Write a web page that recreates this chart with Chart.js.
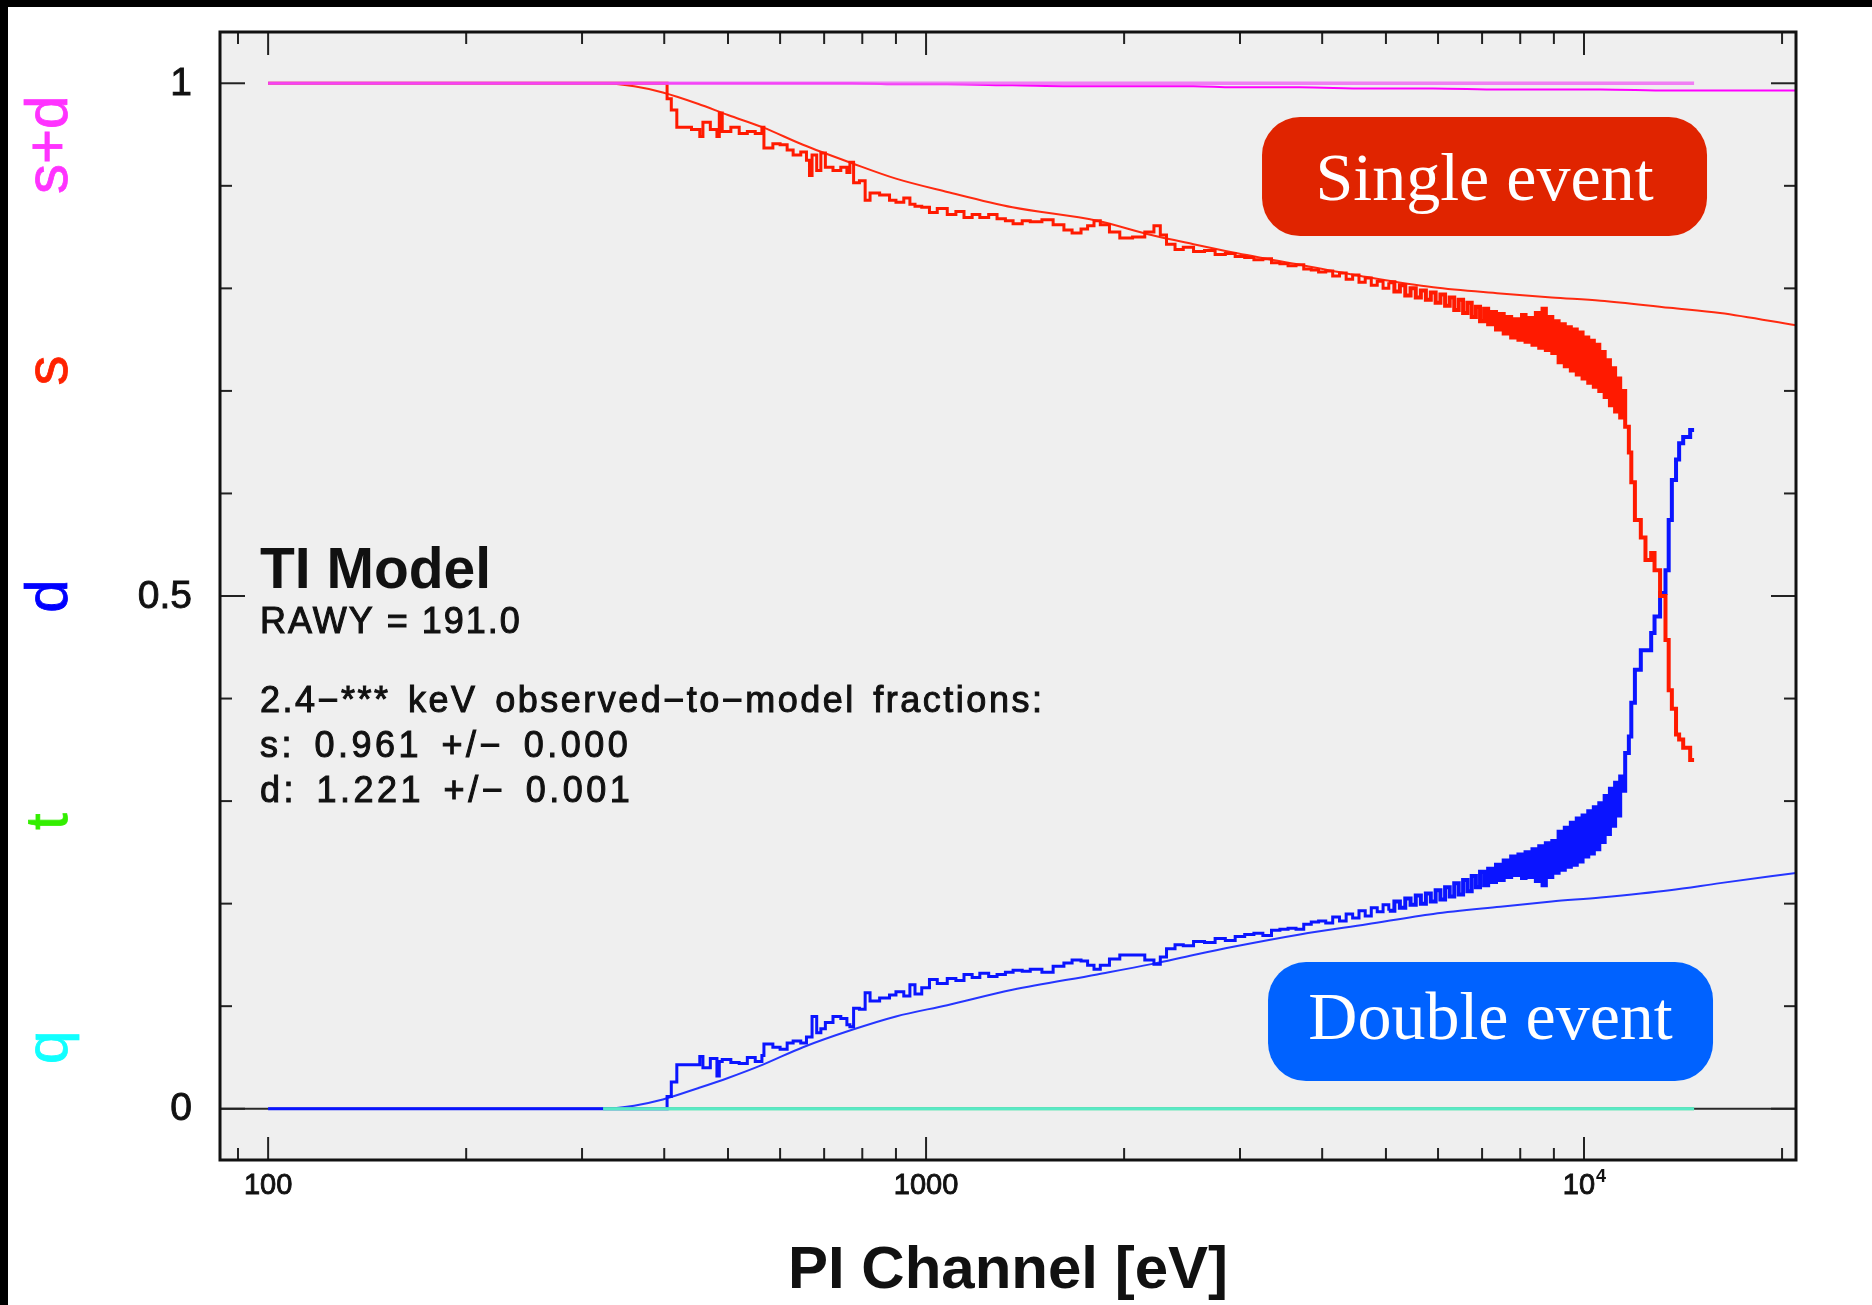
<!DOCTYPE html>
<html>
<head>
<meta charset="utf-8">
<title>Event grade fractions</title>
<script src="https://cdn.jsdelivr.net/npm/chart.js@4.4.1/dist/chart.umd.min.js"></script>
<style>
  html, body { margin: 0; padding: 0; background: #fff; overflow: hidden; }
  canvas { display: block; }
</style>
</head>
<body>
<canvas id="grades" width="1872" height="1305"></canvas>
<script>
// Measured branching ratios per PI channel (eV)
const dataEnergy = [
  100, 200, 300, 404, 410, 418, 440, 453, 458, 470,
  481, 485, 490, 505, 520, 535, 550, 563, 567, 585,
  600, 615, 628, 645, 658, 665, 671, 682, 692, 703,
  722, 742, 758, 766, 776, 792, 808, 822, 850, 880,
  900, 925, 945, 962, 985, 1012, 1040, 1077, 1110, 1142,
  1175, 1207, 1245, 1282, 1320, 1356, 1400, 1440, 1500, 1560,
  1620, 1667, 1720, 1760, 1800, 1840, 1900, 1970, 2060, 2150,
  2220, 2270, 2320, 2390, 2460, 2550, 2650, 2750, 2850, 2950,
  3050, 3150, 3250, 3350, 3450, 3550, 3650, 3750, 3850, 3950,
  4050, 4150, 4250, 4350, 4450, 4550, 4650, 4750, 4850, 4950,
  5050, 5150, 5250, 5350, 5450, 5550, 5650, 5750, 5850, 5950,
  6050, 6150, 6250, 6350, 6450, 6550, 6650, 6750, 6850, 6950,
  7050, 7150, 7250, 7350, 7450, 7550, 7650, 7750, 7850, 7950,
  8050, 8150, 8250, 8350, 8450, 8550, 8650, 8750, 8850, 8950,
  9050, 9150, 9250, 9350, 9450, 9550, 9650, 9750, 9850, 9950,
  10050, 10150, 10250, 10350, 10450, 10550, 10650, 10750, 10850, 10950,
  11050, 11150, 11250, 11350, 11450, 11550, 11700, 11800, 11950, 12200,
  12400, 12650, 12800, 13050, 13300, 13450, 13600, 13800, 13950, 14150,
  14500, 14700,
];
const singleFrac = [
  1.0, 1.0, 1.0, 0.985, 0.974, 0.957, 0.955, 0.948, 0.962, 0.955,
  0.948, 0.971, 0.953, 0.957, 0.951, 0.953, 0.951, 0.957, 0.937, 0.941,
  0.94, 0.935, 0.93, 0.933, 0.925, 0.91, 0.93, 0.915, 0.932, 0.918,
  0.915, 0.918, 0.913, 0.923, 0.903, 0.905, 0.886, 0.893, 0.891, 0.886,
  0.884, 0.888, 0.882, 0.88, 0.879, 0.874, 0.878, 0.872, 0.875, 0.869,
  0.872, 0.869, 0.872, 0.868, 0.866, 0.863, 0.866, 0.865, 0.867, 0.862,
  0.857, 0.854, 0.858, 0.861, 0.866, 0.862, 0.855, 0.849, 0.85, 0.855,
  0.861, 0.852, 0.843, 0.838, 0.84, 0.836, 0.837, 0.833, 0.834, 0.831,
  0.83, 0.828, 0.829, 0.825, 0.824, 0.822, 0.823, 0.819, 0.818, 0.816,
  0.817, 0.812, 0.815, 0.809, 0.813, 0.806, 0.81, 0.803, 0.807, 0.8,
  0.806, 0.797, 0.803, 0.793, 0.8, 0.791, 0.798, 0.789, 0.796, 0.786,
  0.794, 0.783, 0.791, 0.779, 0.789, 0.776, 0.786, 0.772, 0.782, 0.768,
  0.78, 0.765, 0.777, 0.76, 0.775, 0.756, 0.772, 0.752, 0.77, 0.75,
  0.774, 0.748, 0.771, 0.745, 0.776, 0.742, 0.78, 0.74, 0.772, 0.737,
  0.768, 0.728, 0.765, 0.724, 0.762, 0.72, 0.76, 0.716, 0.757, 0.712,
  0.752, 0.708, 0.749, 0.704, 0.745, 0.7, 0.738, 0.694, 0.73, 0.686,
  0.722, 0.68, 0.712, 0.674, 0.7, 0.665, 0.64, 0.611, 0.574, 0.557,
  0.535, 0.542, 0.525, 0.5, 0.457, 0.408, 0.39, 0.365, 0.36, 0.352,
  0.34, 0.34,
];
const doubleFrac = [
  0, 0, 0, 0.012, 0.026, 0.043, 0.043, 0.051, 0.04, 0.049,
  0.032, 0.046, 0.048, 0.045, 0.044, 0.05, 0.046, 0.052, 0.063, 0.06,
  0.058, 0.064, 0.066, 0.064, 0.07, 0.07, 0.09, 0.074, 0.078, 0.084,
  0.09, 0.088, 0.082, 0.08, 0.098, 0.097, 0.113, 0.105, 0.108, 0.111,
  0.114, 0.11, 0.121, 0.112, 0.118, 0.126, 0.122, 0.127, 0.125, 0.131,
  0.128, 0.132, 0.129, 0.131, 0.133, 0.135, 0.134, 0.136, 0.133, 0.139,
  0.142, 0.145, 0.144, 0.14, 0.136, 0.14, 0.146, 0.15, 0.15, 0.145,
  0.141, 0.148, 0.156, 0.16, 0.159, 0.163, 0.162, 0.166, 0.164, 0.168,
  0.17, 0.171, 0.169, 0.174, 0.175, 0.176, 0.175, 0.18, 0.182, 0.183,
  0.181, 0.187, 0.183, 0.19, 0.186, 0.193, 0.188, 0.196, 0.192, 0.199,
  0.193, 0.202, 0.196, 0.205, 0.199, 0.208, 0.2, 0.21, 0.202, 0.213,
  0.204, 0.216, 0.207, 0.22, 0.209, 0.223, 0.212, 0.227, 0.216, 0.231,
  0.218, 0.234, 0.221, 0.238, 0.223, 0.242, 0.226, 0.246, 0.228, 0.248,
  0.225, 0.25, 0.226, 0.253, 0.222, 0.256, 0.218, 0.259, 0.226, 0.261,
  0.23, 0.27, 0.233, 0.274, 0.236, 0.279, 0.238, 0.283, 0.241, 0.286,
  0.246, 0.29, 0.249, 0.294, 0.253, 0.298, 0.26, 0.305, 0.268, 0.312,
  0.276, 0.318, 0.286, 0.324, 0.31, 0.347, 0.363, 0.396, 0.428, 0.447,
  0.447, 0.464, 0.48, 0.503, 0.525, 0.574, 0.613, 0.633, 0.649, 0.655,
  0.662, 0.662,
];
const sumEnergy = [100, 14700];
const sumFrac = [1, 1];
const tailEnergy = [323, 14700];
const tripleFrac = [0, 0];
const quadFrac = [0, 0];

// Model curves
const modelEnergy = [100, 323, 360, 398, 450, 500, 565, 650, 772, 900, 1077, 1353, 1820,
  2200, 2550, 2930, 3700, 4680, 5900, 7460, 8930, 10600, 13500, 16100, 21000];
const singleModel = [1, 1, 0.997, 0.991, 0.98, 0.969, 0.957, 0.94, 0.922, 0.907, 0.894, 0.879, 0.866,
  0.852, 0.843, 0.835, 0.823, 0.811, 0.801, 0.795, 0.791, 0.788, 0.781, 0.776, 0.764];
const doubleModel = [0, 0, 0.003, 0.009, 0.02, 0.03, 0.043, 0.06, 0.077, 0.09, 0.101, 0.116, 0.131,
  0.141, 0.15, 0.158, 0.17, 0.18, 0.19, 0.197, 0.202, 0.206, 0.213, 0.22, 0.23];
const sumModel = [1, 1, 1, 1, 1, 1, 1, 1, 1, 0.999, 0.999, 0.998, 0.997,
  0.997, 0.997, 0.996, 0.996, 0.995, 0.995, 0.994, 0.994, 0.994, 0.993, 0.993, 0.993];

// Axes
const xMajorTicks = [100, 1000, 10000];
const xTickLabels = ["100", "1000", "10^4"];
const xMinorTicks = [90, 200, 300, 400, 500, 600, 700, 800, 900,
  2000, 3000, 4000, 5000, 6000, 7000, 8000, 9000, 20000];
const yMajorTicks = [0, 0.5, 1];
const yTickLabels = ["0", "0.5", "1"];
const yMinorTicks = [0.1, 0.2, 0.3, 0.4, 0.6, 0.7, 0.8, 0.9];

const gradeNames = ["s+d", "s", "d", "t", "q"];
const gradeColors = ["#ff33ff", "#ff2200", "#0000ff", "#33ee00", "#11ffff"];
const gradeLabelY = [0.94, 0.72, 0.5, 0.28, 0.06];

const infoTitle = "TI Model";
const infoLines = ["RAWY = 191.0", "2.4\u2212*** keV observed\u2212to\u2212model fractions:",
  "s: 0.961 +/\u2212 0.000", "d: 1.221 +/\u2212 0.001"];

const callouts = [
  { text: "Single event", energy: 7060, frac: 0.909, color: "#e02400", shift: 23 },
  { text: "Double event", energy: 7210, frac: 0.085, color: "#0062ff", shift: 17 },
];

const points = (xs, ys) => xs.map((x, i) => ({ x, y: ys[i] }));

const line = (label, xs, ys, color, width, stepped) => ({
  label,
  data: points(xs, ys),
  borderColor: color,
  borderWidth: width,
  stepped: stepped || false,
  cubicInterpolationMode: stepped ? "default" : "monotone",
  pointRadius: 0,
  fill: false,
});

// noisy high-energy channels drawn a bit heavier so the scatter reads as a band
const histogram = (label, xs, ys, color) => ({
  ...line(label, xs, ys, color, 3, true),
  segment: { borderWidth: (c) => (c.p0.parsed.x > 5000 ? 4 : 3) },
});

const sans = '"Liberation Sans", Arial, sans-serif';

const heavyText = (ctx, text, x, y, weight) => {
  ctx.fillText(text, x, y);
  ctx.lineWidth = weight;
  ctx.strokeStyle = ctx.fillStyle;
  ctx.strokeText(text, x, y);
};

const framePlugin = {
  id: "framePlugin",
  beforeDraw(chart) {
    const { ctx, chartArea: a, scales } = chart;
    ctx.save();
    ctx.fillStyle = "#ffffff";
    ctx.fillRect(0, 0, chart.width, chart.height);
    ctx.fillStyle = "#000000";
    ctx.fillRect(0, 0, 8, chart.height);
    ctx.fillRect(0, 0, chart.width, 7);
    ctx.fillStyle = "#efefef";
    ctx.fillRect(a.left, a.top, a.right - a.left, a.bottom - a.top);

    const y0 = scales.y.getPixelForValue(0);
    ctx.strokeStyle = "#2a2a2a";
    ctx.lineWidth = 2;
    ctx.beginPath();
    ctx.moveTo(a.left, y0);
    ctx.lineTo(a.right, y0);
    ctx.stroke();
    ctx.restore();
  },
  afterDraw(chart) {
    const { ctx, chartArea: a, scales } = chart;
    const xs = scales.x;
    const ys = scales.y;
    ctx.save();

    // ticks on all four sides
    const tick = (x1, y1, x2, y2) => {
      ctx.beginPath();
      ctx.moveTo(x1, y1);
      ctx.lineTo(x2, y2);
      ctx.stroke();
    };
    ctx.strokeStyle = "#222";
    ctx.lineWidth = 2;
    const xTick = (v, len) => {
      const px = xs.getPixelForValue(v);
      tick(px, a.bottom, px, a.bottom - len);
      tick(px, a.top, px, a.top + len);
    };
    const yTick = (v, len) => {
      const py = ys.getPixelForValue(v);
      tick(a.left, py, a.left + len, py);
      tick(a.right, py, a.right - len, py);
    };
    xMajorTicks.forEach((v) => xTick(v, 23));
    xMinorTicks.forEach((v) => xTick(v, 12));
    yMajorTicks.forEach((v) => yTick(v, 25));
    yMinorTicks.forEach((v) => yTick(v, 12));

    ctx.strokeStyle = "#111";
    ctx.lineWidth = 3;
    ctx.strokeRect(a.left, a.top, a.right - a.left, a.bottom - a.top);

    // tick labels
    ctx.fillStyle = "#111";
    ctx.font = "39px " + sans;
    ctx.textAlign = "right";
    ctx.textBaseline = "middle";
    yMajorTicks.forEach((v, i) => {
      heavyText(ctx, yTickLabels[i], a.left - 28, ys.getPixelForValue(v) + 1, 0.9);
    });

    ctx.textBaseline = "alphabetic";
    xMajorTicks.forEach((v, i) => {
      const px = xs.getPixelForValue(v);
      const base = a.bottom + 34;
      const parts = xTickLabels[i].split("^");
      ctx.font = "29px " + sans;
      if (parts.length === 1) {
        ctx.textAlign = "center";
        heavyText(ctx, parts[0], px, base, 0.9);
        return;
      }
      const w1 = ctx.measureText(parts[0]).width;
      ctx.font = "18px " + sans;
      const w2 = ctx.measureText(parts[1]).width;
      const start = px - (w1 + w2) / 2;
      ctx.textAlign = "left";
      ctx.font = "29px " + sans;
      heavyText(ctx, parts[0], start, base, 0.9);
      ctx.font = "bold 18px " + sans;
      ctx.fillText(parts[1], start + w1 + 1, base - 12);
    });

    // axis title
    ctx.font = "bold 60px " + sans;
    ctx.textAlign = "center";
    ctx.fillText("PI Channel [eV]", (a.left + a.right) / 2, a.bottom + 128);

    // grade labels along the left edge
    ctx.font = "60px " + sans;
    gradeNames.forEach((name, i) => {
      ctx.save();
      ctx.translate(67, ys.getPixelForValue(gradeLabelY[i]));
      ctx.rotate(-Math.PI / 2);
      ctx.fillStyle = gradeColors[i];
      ctx.textAlign = "center";
      heavyText(ctx, name, 0, 0, 0.8);
      ctx.restore();
    });

    // fit summary
    ctx.fillStyle = "#111";
    ctx.textAlign = "left";
    ctx.font = "bold 57px " + sans;
    ctx.fillText(infoTitle, a.left + 40, a.top + 556);
    ctx.font = "36px " + sans;
    const offsets = [601, 680, 725, 770];
    const wordGaps = ["0px", "5px", "6px", "6px"];
    const letterGaps = ["2px", "2.5px", "3.5px", "3.5px"];
    infoLines.forEach((t, i) => {
      ctx.letterSpacing = letterGaps[i];
      ctx.wordSpacing = wordGaps[i];
      heavyText(ctx, t, a.left + 40, a.top + offsets[i], 1);
    });
    ctx.letterSpacing = "0px";
    ctx.wordSpacing = "0px";

    // callout boxes
    callouts.forEach((c) => {
      const cx = xs.getPixelForValue(c.energy);
      const cy = ys.getPixelForValue(c.frac);
      const w = 445;
      const h = 119;
      ctx.fillStyle = c.color;
      ctx.beginPath();
      ctx.roundRect(cx - w / 2, cy - h / 2, w, h, 38);
      ctx.fill();
      ctx.fillStyle = "#ffffff";
      ctx.font = '68px "Liberation Serif", "Times New Roman", serif';
      ctx.textAlign = "center";
      ctx.fillText(c.text, cx, cy + c.shift);
    });

    ctx.restore();
  },
};

new Chart(document.getElementById("grades"), {
  type: "line",
  data: {
    datasets: [
      line("s+d", sumEnergy, sumFrac, "rgba(240, 90, 245, 0.75)", 3.5),
      line("s+d model", modelEnergy, sumModel, "#ff00ff", 2),
      line("q", tailEnergy, quadFrac, "rgba(95, 235, 215, 0.8)", 3),
      line("t", tailEnergy, tripleFrac, "#3fe080", 3),
      histogram("s", dataEnergy, singleFrac, "#ff1a00"),
      histogram("d", dataEnergy, doubleFrac, "#0a14ff"),
      line("s model", modelEnergy, singleModel, "#ff2a10", 2),
      line("d model", modelEnergy, doubleModel, "#2535ff", 2),
    ],
  },
  options: {
    responsive: false,
    animation: false,
    devicePixelRatio: 1,
    events: [],
    layout: { padding: { left: 220, top: 32, right: 76, bottom: 145 } },
    plugins: {
      legend: { display: false },
      tooltip: { enabled: false },
    },
    scales: {
      x: { type: "logarithmic", min: 84.5, max: 21000, bounds: "data", display: false },
      y: { type: "linear", min: -0.05, max: 1.05, bounds: "data", display: false },
    },
  },
  plugins: [framePlugin],
});
</script>
</body>
</html>
